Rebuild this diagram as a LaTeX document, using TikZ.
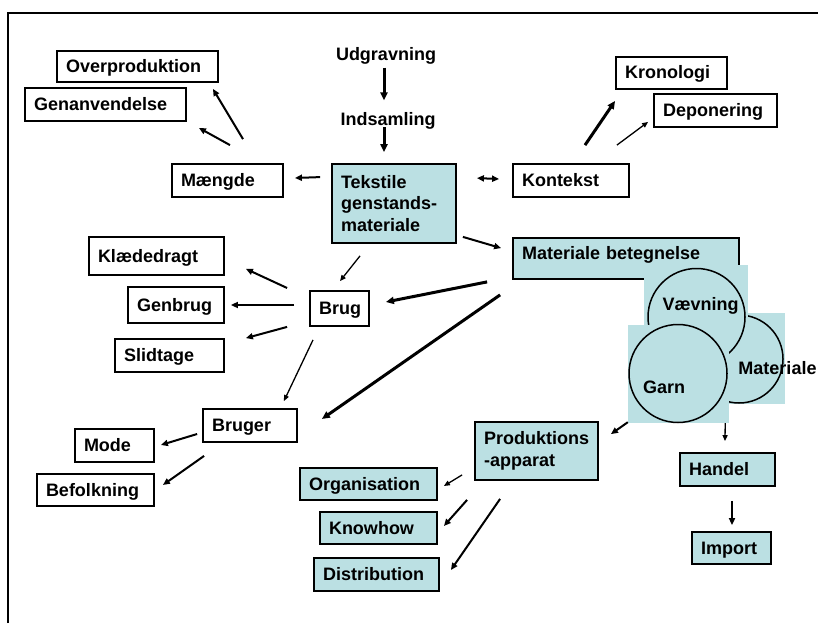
\documentclass[tikz,border=0pt]{standalone}
\usepackage{fontspec}
\setmainfont{Liberation Sans}
\usetikzlibrary{arrows.meta,calc}
\definecolor{lblue}{RGB}{187,224,227}
\tikzset{
  box/.style={draw, line width=1.8pt, inner xsep=9pt, inner ysep=0pt, align=left, font=\bfseries\fontsize{18}{21.5}\selectfont},
  wbox/.style={box, text height=13pt, text depth=1pt},
  bbox/.style={wbox, fill=lblue},
  word/.style={inner sep=0pt, font=\bfseries\fontsize{18}{21.5}\selectfont},
  blobsq/.style={fill=lblue, inner sep=0pt},
  blob/.style={draw, circle, line width=1.5pt, inner sep=0pt},
  arr/.style={-{Triangle[length=7pt,width=6pt]}, line width=2pt},
  arrthick/.style={-{Triangle[length=8pt,width=7pt]}, line width=3pt},
  arrthin/.style={-{Triangle[length=6pt,width=5pt]}, line width=1.3pt},
  dbl/.style={{Triangle[length=7pt,width=6pt]}-{Triangle[length=7pt,width=6pt]}, line width=2pt}
}
\begin{document}
\begin{tikzpicture}[x=1pt,y=-1pt]
\useasboundingbox (0,0) rectangle (818,623);
\draw[line width=1.2pt] (8,623) -- (8,13) -- (818,13);

\node[word] (udgr) at (386,55.7) {Udgravning};
\node[word] (indsam) at (388,120.4) {Indsamling};
\node[box, fill=lblue, text width=106pt, minimum height=79pt] (tekstile) at (394,203.5) {Tekstile\\genstands-\\materiale};
\node[wbox, text width=143pt, minimum height=31pt] (overprod) at (137.5,66.5) {Overproduktion};
\node[wbox, text width=143pt, minimum height=33pt] (genanv) at (105.5,104.5) {Genanvendelse};
\node[wbox, text width=93pt, minimum height=33pt] (maengde) at (227.5,180.5) {Mængde};
\node[wbox, text width=98pt, minimum height=33pt] (kontekst) at (571,180.5) {Kontekst};
\node[wbox, text width=93pt, minimum height=32pt] (kronologi) at (671.5,73) {Kronologi};
\node[wbox, text width=105pt, minimum height=33pt] (deponering) at (715.5,110.5) {Deponering};
\node[bbox, text width=208pt, minimum height=41pt, text depth=11pt] (matbet) at (626,258.5) {Materiale betegnelse};
\node[wbox, text width=117pt, minimum height=38pt] (klaede) at (156.5,256) {Klædedragt};
\node[wbox, text width=78pt, minimum height=36pt] (genbrug) at (176,305) {Genbrug};
\node[wbox, text width=41pt, minimum height=35pt] (brug) at (339.5,308.5) {Brug};
\node[wbox, text width=91pt, minimum height=33pt] (slidtage) at (169.5,355.5) {Slidtage};
\node[wbox, text width=76pt, minimum height=33pt] (bruger) at (250,425.5) {Bruger};
\node[wbox, text width=61pt, minimum height=33pt] (mode) at (114.5,445.5) {Mode};
\node[wbox, text width=99pt, minimum height=32pt] (befolk) at (95.5,490) {Befolkning};
\node[box, fill=lblue, text width=105pt, minimum height=58pt] (prod) at (536.5,451) {Produktions\\-apparat};
\node[bbox, text width=119pt, minimum height=32pt] (org) at (368.5,484) {Organisation};
\node[bbox, text width=99pt, minimum height=32pt] (knowhow) at (378.5,528) {Knowhow};
\node[bbox, text width=107pt, minimum height=33pt] (distrib) at (376.5,574.5) {Distribution};
\node[bbox, text width=77pt, minimum height=33pt] (handel) at (727.5,469.5) {Handel};
\node[bbox, text width=61pt, minimum height=32pt] (import) at (731.5,548) {Import};

\node[blobsq, minimum width=92pt, minimum height=91pt] (matsq) at (739,358.5) {};
\node[blob, minimum size=88pt] (matc) at (739,359) {};
\node[blobsq, minimum width=104pt, minimum height=104pt] (vaevsq) at (696,317) {};
\node[blob, minimum size=97pt] (vaevc) at (696.5,317) {};
\node[blobsq, minimum width=101pt, minimum height=98pt] (garnsq) at (678.5,374) {};
\node[blob, minimum size=98pt] (garnc) at (678,373.5) {};
\node[word] (vaevtxt) at (700.5,306) {Vævning};
\node[word] (garntxt) at (664,387.5) {Garn};
\node[word] (mattxt) at (777.5,368) {Materiale};

\draw[arrthick] ($(udgr)+(-2,12)$) -- ($(indsam)+(-4,-20)$);
\draw[arrthick] ($(indsam)+(-4,7)$) -- ($(tekstile.north)+(-10,-11)$);
\draw[arr] ($(maengde.north)+(15.5,-24)$) -- ($(overprod.south east)+(-6,6)$);
\draw[arr] ($(maengde.north)+(2.5,-18)$) -- ($(genanv.south east)+(12,6)$);
\draw[arr] ($(tekstile.north west)+(-11,14)$) -- ($(maengde.east)+(11,-2.5)$);
\draw[dbl] ($(tekstile.north east)+(20,15)$) -- ($(kontekst.west)+(-13,-1.5)$);
\draw[arrthick] ($(kontekst.north)+(14,-18)$) -- ($(kronologi.south west)+(0,11)$);
\draw[arrthin] ($(kontekst.north east)+(-13,-18)$) -- ($(deponering.south west)+(-5,-6)$);
\draw[arr] ($(tekstile.south east)+(6,-7)$) -- ($(matbet.north west)+(-11,11)$);
\draw[arrthin] ($(tekstile.south)+(-34,12)$) -- ($(brug.north)+(0.5,-9)$);
\draw[arrthick] ($(matbet.south west)+(-25,2)$) -- ($(brug.east)+(16,-6.5)$);
\draw[arrthick] ($(matbet.south west)+(-12,15)$) -- ($(bruger.east)+(24,-6.5)$);
\draw[arr] ($(brug.west)+(-22,-20.5)$) -- ($(klaede.south east)+(21,-7)$);
\draw[arr] ($(brug.west)+(-15,-3.5)$) -- ($(genbrug.east)+(6,0)$);
\draw[arr] ($(brug.south west)+(-22,0)$) -- ($(slidtage.north east)+(21,0)$);
\draw[arrthin] ($(brug.south)+(-26.5,13)$) -- ($(bruger.north east)+(-14,-7)$);
\draw[arr] ($(bruger.west)+(-5,8.5)$) -- ($(mode.east)+(6,-0.5)$);
\draw[arr] ($(bruger.south west)+(2,13)$) -- ($(befolk.east)+(8,-5)$);
\draw[arr] ($(garnsq.south west)+(0,-1)$) -- ($(prod.north east)+(12,13)$);
\draw[arrthin] ($(garnsq.south east)+(-4,0)$) -- ($(handel.north)+(-2.5,-11)$);
\draw[arr] ($(handel.south)+(4.5,14)$) -- ($(import.north)+(0.5,-6)$);
\draw[arrthin] ($(prod.south west)+(-12,-6)$) -- ($(org.east)+(6,2)$);
\draw[arr] ($(prod.south west)+(-7,19)$) -- ($(knowhow.east)+(6,-2)$);
\draw[arr] ($(prod.south west)+(26,18)$) -- ($(distrib.east)+(11,-4.5)$);
\end{tikzpicture}
\end{document}
